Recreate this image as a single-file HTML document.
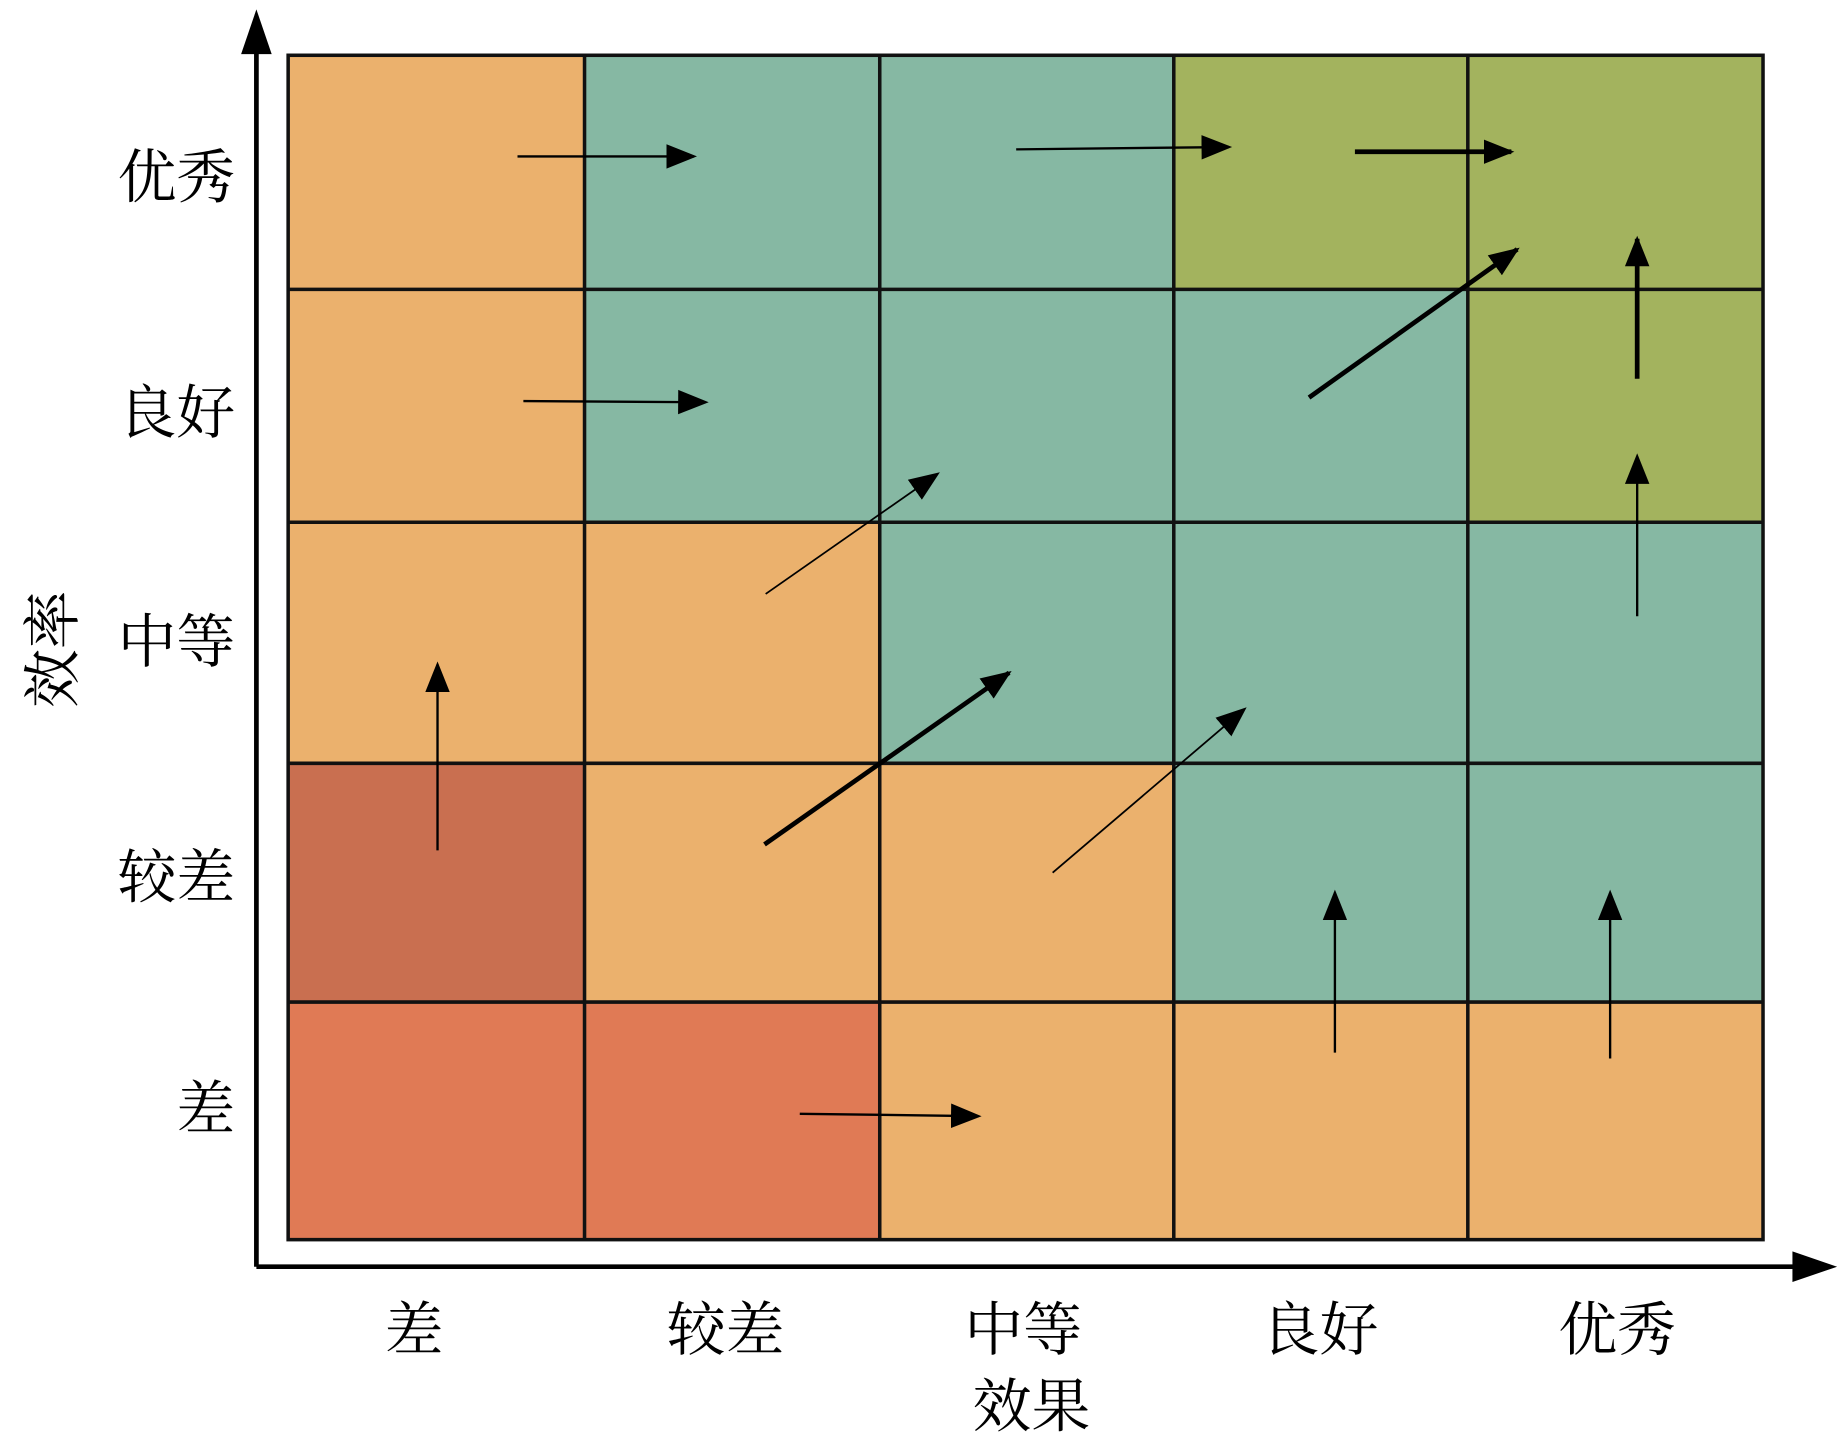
<!DOCTYPE html>
<html><head><meta charset="utf-8"><style>html,body{margin:0;padding:0;background:#fff}svg{display:block}</style></head>
<body>
<svg width="1843" height="1449" viewBox="0 0 1567 1232" preserveAspectRatio="none" xmlns="http://www.w3.org/2000/svg">
<defs>
<marker id="a2" viewBox="0 0 10 8" refX="9" refY="4" markerWidth="26" markerHeight="22" orient="auto" markerUnits="userSpaceOnUse"><path d="M0,0 L10,4 L0,8 Z" fill="#000"/></marker>
</defs>
<g stroke="none">
<rect x="245" y="47" width="252" height="199" fill="#EBB16D"/>
<rect x="497" y="47" width="251" height="199" fill="#86B8A3"/>
<rect x="748" y="47" width="250" height="199" fill="#86B8A3"/>
<rect x="998" y="47" width="250" height="199" fill="#A3B35E"/>
<rect x="1248" y="47" width="251" height="199" fill="#A3B35E"/>
<rect x="245" y="246" width="252" height="198" fill="#EBB16D"/>
<rect x="497" y="246" width="251" height="198" fill="#86B8A3"/>
<rect x="748" y="246" width="250" height="198" fill="#86B8A3"/>
<rect x="998" y="246" width="250" height="198" fill="#86B8A3"/>
<rect x="1248" y="246" width="251" height="198" fill="#A3B35E"/>
<rect x="245" y="444" width="252" height="205" fill="#EBB16D"/>
<rect x="497" y="444" width="251" height="205" fill="#EBB16D"/>
<rect x="748" y="444" width="250" height="205" fill="#86B8A3"/>
<rect x="998" y="444" width="250" height="205" fill="#86B8A3"/>
<rect x="1248" y="444" width="251" height="205" fill="#86B8A3"/>
<rect x="245" y="649" width="252" height="203" fill="#C96F50"/>
<rect x="497" y="649" width="251" height="203" fill="#EBB16D"/>
<rect x="748" y="649" width="250" height="203" fill="#EBB16D"/>
<rect x="998" y="649" width="250" height="203" fill="#86B8A3"/>
<rect x="1248" y="649" width="251" height="203" fill="#86B8A3"/>
<rect x="245" y="852" width="252" height="202" fill="#E07A55"/>
<rect x="497" y="852" width="251" height="202" fill="#E07A55"/>
<rect x="748" y="852" width="250" height="202" fill="#EBB16D"/>
<rect x="998" y="852" width="250" height="202" fill="#EBB16D"/>
<rect x="1248" y="852" width="251" height="202" fill="#EBB16D"/>
</g>
<g stroke="#111" stroke-width="3" fill="none">
<rect x="245" y="47" width="1254" height="1007"/>
<line x1="497" y1="47" x2="497" y2="1054"/><line x1="748" y1="47" x2="748" y2="1054"/>
<line x1="998" y1="47" x2="998" y2="1054"/><line x1="1248" y1="47" x2="1248" y2="1054"/>
<line x1="245" y1="246" x2="1499" y2="246"/><line x1="245" y1="444" x2="1499" y2="444"/>
<line x1="245" y1="649" x2="1499" y2="649"/><line x1="245" y1="852" x2="1499" y2="852"/>
</g>
<g stroke="#000" stroke-width="4">
<line x1="218" y1="1077" x2="218" y2="40"/>
<line x1="218" y1="1077" x2="1530" y2="1077"/>
</g>
<path d="M218,8 L205,46 L231,46 Z" fill="#000"/>
<path d="M1562,1077 L1524,1064 L1524,1090 Z" fill="#000"/>
<g stroke="#000" fill="none" marker-end="url(#a2)">
<line x1="440" y1="133" x2="590" y2="133" stroke-width="2"/>
<line x1="864" y1="127" x2="1045" y2="125" stroke-width="2"/>
<line x1="1152" y1="129" x2="1285" y2="129" stroke-width="4"/>
<line x1="445" y1="341" x2="600" y2="342" stroke-width="2"/>
<line x1="1113" y1="338" x2="1290" y2="212" stroke-width="4"/>
<line x1="1392" y1="322" x2="1392" y2="203" stroke-width="4"/>
<line x1="1392" y1="524" x2="1392" y2="388" stroke-width="2"/>
<line x1="651" y1="505" x2="797" y2="403" stroke-width="1.5"/>
<line x1="650" y1="718" x2="858" y2="572" stroke-width="4"/>
<line x1="895" y1="742" x2="1058" y2="603" stroke-width="1.5"/>
<line x1="372" y1="723" x2="372" y2="565" stroke-width="2"/>
<line x1="1135" y1="895" x2="1135" y2="759" stroke-width="2"/>
<line x1="1369" y1="900" x2="1369" y2="759" stroke-width="2"/>
<line x1="680" y1="947" x2="832" y2="949" stroke-width="2"/>
</g>
<g font-family="'Liberation Serif','Noto Serif CJK SC',serif" font-size="50" fill="#000">
<g text-anchor="end">
<text x="200" y="168">优秀</text>
<text x="200" y="368">良好</text>
<text x="200" y="563">中等</text>
<text x="200" y="763">较差</text>
<text x="200" y="960">差</text>
</g>
<g text-anchor="middle">
<text x="352" y="1148">差</text>
<text x="617" y="1148">较差</text>
<text x="870" y="1148">中等</text>
<text x="1122" y="1148">良好</text>
<text x="1375" y="1148">优秀</text>
<text x="877" y="1213">效果</text>
<text transform="translate(62,552) rotate(-90)">效率</text>
</g>
</g>
</svg>
</body></html>
